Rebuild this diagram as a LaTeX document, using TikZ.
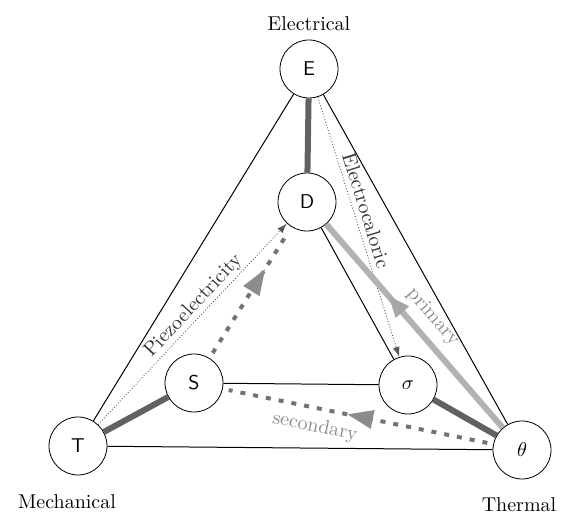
\documentclass[tikz,border=0pt]{standalone}
\usetikzlibrary{arrows.meta,decorations.markings}

\begin{document}
\begin{tikzpicture}[
  x=0.5pt, y=-0.5pt,
  >=Latex,
  every node/.style={font=\normalsize},
  state/.style={draw, circle, minimum size=29pt, inner sep=0pt,
                fill=white, font=\sffamily},
  link/.style={line width=0.5pt},
  strong/.style={line width=3pt, draw=black!62},
  pyro/.style={line width=3pt, draw=black!30},
  effect/.style={densely dotted, line width=0.45pt, draw=black!65,
                 -{Latex[length=5pt,width=3.5pt]}},
  indirect/.style={dash pattern=on 2.5pt off 4pt, line width=2pt,
                   draw=black!55, shorten <=3pt, shorten >=3pt},
  midarrow/.style={postaction={decorate, decoration={markings,
      mark=at position #1 with {\arrow{Triangle[length=13pt,width=9pt,color=black!45]}}}}},
  backarrow/.style={postaction={decorate, decoration={markings,
      mark=at position #1 with {\arrowreversed{Triangle[length=11pt,width=8pt,color=black!35]}}}}},
  tag/.style={inner sep=1pt, text=black!80},
  faint/.style={inner sep=1pt, text=black!45},
]
  \useasboundingbox (0,0) rectangle (563,513);

  % Outer triangle: intensive variables
  \node[state] (E) at (309,69) {E};
  \node[state] (T) at (78,446) {T};
  \node[state] (th) at (522,450) {$\theta$};
  % Inner triangle: extensive variables
  \node[state] (D) at (307,202) {D};
  \node[state] (S) at (194,383) {S};
  \node[state] (sig) at (408,385) {$\sigma$};

  % Domain labels
  \node (elec) at (309,24) {Electrical};
  \node (mech) at (67,502) {Mechanical};
  \node (therm) at (519,505) {Thermal};

  % Thin connections
  \draw[link] (E) -- (T);
  \draw[link] (E) -- (th);
  \draw[link] (T) -- (th);
  \draw[link] (S) -- (sig);
  \draw[link] (D) -- (sig);

  % Principal effects
  \draw[strong] (E) -- (D);
  \draw[strong] (T) -- (S);
  \draw[strong] (sig) -- (th);

  % Coupled effects
  \draw[effect] (T) -- node[tag, sloped, above, pos=0.55] {Piezoelectricity} (D);
  \draw[effect] (E) -- node[tag, sloped, above=1.5pt, pos=0.45] {Electrocaloric} (sig);
  \draw[pyro, backarrow=0.35] (D) -- node[faint, sloped, above=3pt, pos=0.52] {primary} (th);

  % Secondary path via strain
  \draw[indirect, midarrow=0.54] (th) -- (S);
  \draw[indirect, midarrow=0.68] (S) -- (D);
  \node[faint, rotate=-11.5] (sec) at (315,427) {secondary};
\end{tikzpicture}
\end{document}
